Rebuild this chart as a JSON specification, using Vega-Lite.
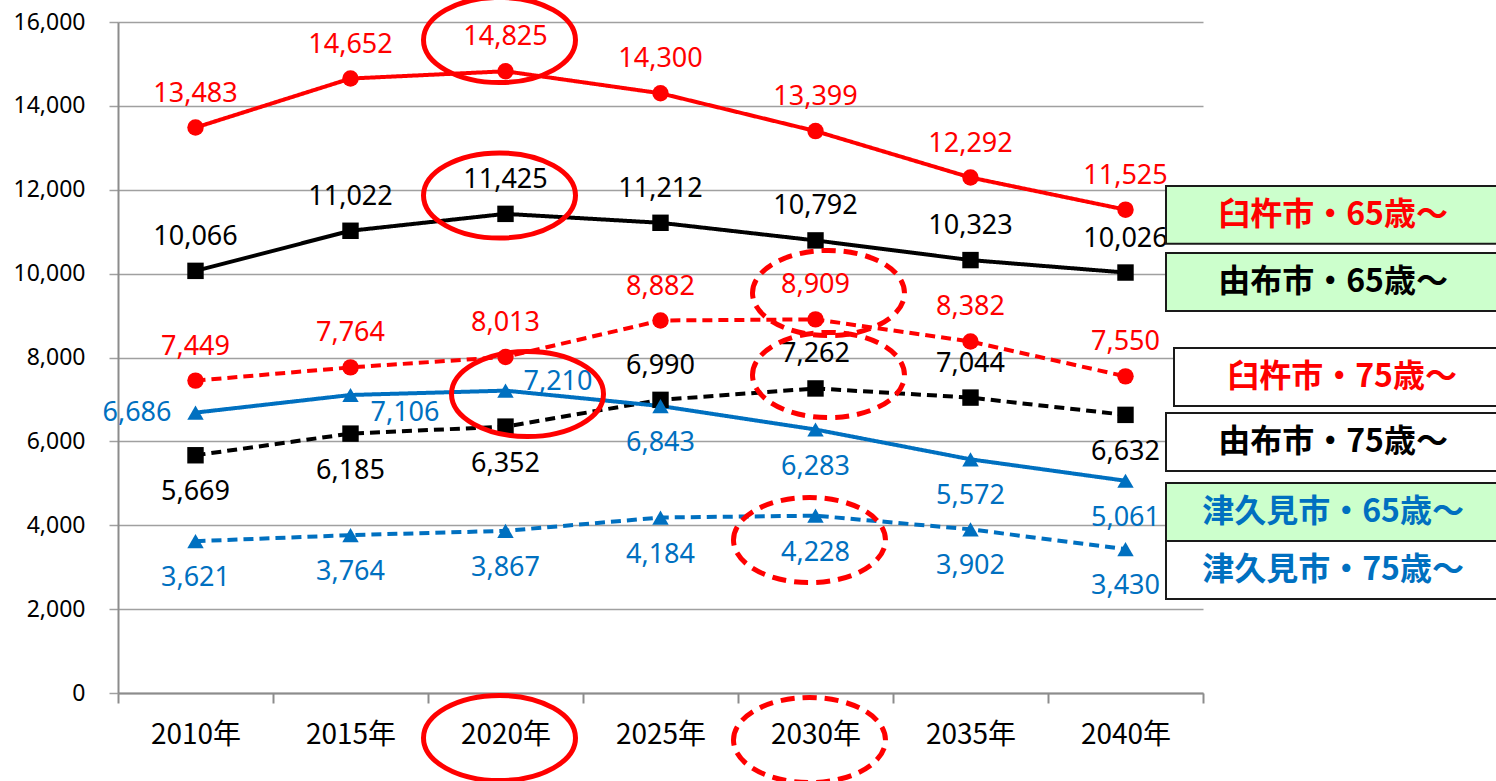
{
  "$schema": "https://vega.github.io/schema/vega-lite/v6.json",
  "autosize": "none",
  "width": 1085,
  "height": 671,
  "padding": {"left": 118, "top": 22, "right": 293, "bottom": 88},
  "background": "white",
  "config": {
    "view": {"stroke": null},
    "axisY": {
      "title": null, "format": ",", "labelFont": "Noto Sans", "labelFontSize": 23, "labelColor": "#000",
      "labelPadding": 24, "tickSize": 9, "tickColor": "#a0a0a0", "tickWidth": 1.5,
      "gridColor": "#a0a0a0", "gridWidth": 1.5, "domainColor": "#8c8c8c", "domainWidth": 2
    },
    "axisX": {
      "title": null, "labelAngle": 0,
      "labelFont": "Noto Sans CJK JP", "labelFontSize": 28, "labelColor": "#000",
      "labelPadding": 18, "tickSize": 10, "tickColor": "#8c8c8c", "tickWidth": 2,
      "domainColor": "#8c8c8c", "domainWidth": 2, "grid": false
    }
  },
  "datasets": {
    "series": [
      {"year": "2010年", "city": "臼杵市", "age": "65歳～", "value": 13483},
      {"year": "2015年", "city": "臼杵市", "age": "65歳～", "value": 14652},
      {"year": "2020年", "city": "臼杵市", "age": "65歳～", "value": 14825},
      {"year": "2025年", "city": "臼杵市", "age": "65歳～", "value": 14300},
      {"year": "2030年", "city": "臼杵市", "age": "65歳～", "value": 13399},
      {"year": "2035年", "city": "臼杵市", "age": "65歳～", "value": 12292},
      {"year": "2040年", "city": "臼杵市", "age": "65歳～", "value": 11525},
      {"year": "2010年", "city": "由布市", "age": "65歳～", "value": 10066},
      {"year": "2015年", "city": "由布市", "age": "65歳～", "value": 11022},
      {"year": "2020年", "city": "由布市", "age": "65歳～", "value": 11425},
      {"year": "2025年", "city": "由布市", "age": "65歳～", "value": 11212},
      {"year": "2030年", "city": "由布市", "age": "65歳～", "value": 10792},
      {"year": "2035年", "city": "由布市", "age": "65歳～", "value": 10323},
      {"year": "2040年", "city": "由布市", "age": "65歳～", "value": 10026},
      {"year": "2010年", "city": "臼杵市", "age": "75歳～", "value": 7449},
      {"year": "2015年", "city": "臼杵市", "age": "75歳～", "value": 7764},
      {"year": "2020年", "city": "臼杵市", "age": "75歳～", "value": 8013},
      {"year": "2025年", "city": "臼杵市", "age": "75歳～", "value": 8882},
      {"year": "2030年", "city": "臼杵市", "age": "75歳～", "value": 8909},
      {"year": "2035年", "city": "臼杵市", "age": "75歳～", "value": 8382},
      {"year": "2040年", "city": "臼杵市", "age": "75歳～", "value": 7550},
      {"year": "2010年", "city": "由布市", "age": "75歳～", "value": 5669},
      {"year": "2015年", "city": "由布市", "age": "75歳～", "value": 6185},
      {"year": "2020年", "city": "由布市", "age": "75歳～", "value": 6352},
      {"year": "2025年", "city": "由布市", "age": "75歳～", "value": 6990},
      {"year": "2030年", "city": "由布市", "age": "75歳～", "value": 7262},
      {"year": "2035年", "city": "由布市", "age": "75歳～", "value": 7044},
      {"year": "2040年", "city": "由布市", "age": "75歳～", "value": 6632},
      {"year": "2010年", "city": "津久見市", "age": "65歳～", "value": 6686},
      {"year": "2015年", "city": "津久見市", "age": "65歳～", "value": 7106},
      {"year": "2020年", "city": "津久見市", "age": "65歳～", "value": 7210},
      {"year": "2025年", "city": "津久見市", "age": "65歳～", "value": 6843},
      {"year": "2030年", "city": "津久見市", "age": "65歳～", "value": 6283},
      {"year": "2035年", "city": "津久見市", "age": "65歳～", "value": 5572},
      {"year": "2040年", "city": "津久見市", "age": "65歳～", "value": 5061},
      {"year": "2010年", "city": "津久見市", "age": "75歳～", "value": 3621},
      {"year": "2015年", "city": "津久見市", "age": "75歳～", "value": 3764},
      {"year": "2020年", "city": "津久見市", "age": "75歳～", "value": 3867},
      {"year": "2025年", "city": "津久見市", "age": "75歳～", "value": 4184},
      {"year": "2030年", "city": "津久見市", "age": "75歳～", "value": 4228},
      {"year": "2035年", "city": "津久見市", "age": "75歳～", "value": 3902},
      {"year": "2040年", "city": "津久見市", "age": "75歳～", "value": 3430}
    ],
    "ellipses": [
      {"year": "2020年", "anchor": 15571},
      {"year": "2020年", "anchor": 11863},
      {"year": "2020年", "anchor": 7130},
      {"year": "2020年", "anchor": -1073},
      {"year": "2030年", "anchor": 9538},
      {"year": "2030年", "anchor": 7583},
      {"year": "2030年", "anchor": 3648},
      {"year": "2030年", "anchor": -1121}
    ],
    "legend": [
      {"city": "臼杵市", "age": "65歳～", "anchor": 11400},
      {"city": "由布市", "age": "65歳～", "anchor": 9800},
      {"city": "臼杵市", "age": "75歳～", "anchor": 7535},
      {"city": "由布市", "age": "75歳～", "anchor": 5985},
      {"city": "津久見市", "age": "65歳～", "anchor": 4316},
      {"city": "津久見市", "age": "75歳～", "anchor": 2933}
    ]
  },
  "encoding": {
    "x": {
      "field": "year", "type": "nominal",
      "scale": {"domain": ["2010年", "2015年", "2020年", "2025年", "2030年", "2035年", "2040年"], "paddingInner": 0, "paddingOuter": 0},
      "axis": {"tickBand": "extent"}
    }
  },
  "layer": [
    {
      "data": {"name": "series"},
      "mark": {"type": "line", "strokeWidth": 4},
      "encoding": {
        "y": {
          "field": "value", "type": "quantitative",
          "scale": {"domain": [0, 16000], "nice": false},
          "axis": {"values": [0, 2000, 4000, 6000, 8000, 10000, 12000, 14000, 16000], "labelExpr": "format(datum.value, ',')"}
        },
        "color": {
          "field": "city", "type": "nominal",
          "scale": {"domain": ["臼杵市", "由布市", "津久見市"], "range": ["#FF0000", "#000000", "#0070C0"]},
          "legend": null
        },
        "strokeDash": {
          "field": "age", "type": "nominal",
          "scale": {"domain": ["65歳～", "75歳～"], "range": [[1, 0], [10, 6]]},
          "legend": null
        }
      }
    },
    {
      "data": {"name": "series"},
      "mark": {"type": "point", "filled": true, "opacity": 1, "size": 270},
      "encoding": {
        "y": {"field": "value", "type": "quantitative"},
        "color": {"field": "city", "type": "nominal", "legend": null},
        "shape": {
          "field": "city", "type": "nominal",
          "scale": {"domain": ["臼杵市", "由布市", "津久見市"], "range": ["circle", "square", "triangle-up"]},
          "legend": null
        }
      }
    },
    {
      "data": {"name": "series"},
      "transform": [{"filter": "datum.city == '臼杵市' || (datum.city == '由布市' && datum.age == '65歳～') || (datum.city == '由布市' && datum.age == '75歳～' && indexof(['2025年','2030年','2035年'], datum.year) >= 0)"}],
      "mark": {"type": "text", "font": "Noto Sans", "fontSize": 27, "dy": -34, "baseline": "middle"},
      "encoding": {
        "y": {"field": "value", "type": "quantitative"},
        "text": {"field": "value", "type": "quantitative", "format": ","},
        "color": {"field": "city", "type": "nominal", "legend": null}
      }
    },
    {
      "data": {"name": "series"},
      "transform": [{"filter": "(datum.city == '由布市' && datum.age == '75歳～' && indexof(['2010年','2015年','2020年','2040年'], datum.year) >= 0) || (datum.city == '津久見市' && datum.age == '75歳～') || (datum.city == '津久見市' && datum.age == '65歳～' && indexof(['2025年','2030年','2035年','2040年'], datum.year) >= 0)"}],
      "mark": {"type": "text", "font": "Noto Sans", "fontSize": 27, "dy": 37, "baseline": "middle"},
      "encoding": {
        "y": {"field": "value", "type": "quantitative"},
        "text": {"field": "value", "type": "quantitative", "format": ","},
        "color": {"field": "city", "type": "nominal", "legend": null}
      }
    },
    {
      "data": {"name": "series"},
      "transform": [{"filter": "datum.city == '津久見市' && datum.age == '65歳～' && datum.year == '2010年'"}],
      "mark": {"type": "text", "font": "Noto Sans", "fontSize": 27, "dx": -24, "dy": 0, "align": "right", "baseline": "middle"},
      "encoding": {
        "y": {"field": "value", "type": "quantitative"},
        "text": {"field": "value", "type": "quantitative", "format": ","},
        "color": {"field": "city", "type": "nominal", "legend": null}
      }
    },
    {
      "data": {"name": "series"},
      "transform": [{"filter": "datum.city == '津久見市' && datum.age == '65歳～' && datum.year == '2015年'"}],
      "mark": {"type": "text", "font": "Noto Sans", "fontSize": 27, "dx": 20, "dy": 18, "align": "left", "baseline": "middle"},
      "encoding": {
        "y": {"field": "value", "type": "quantitative"},
        "text": {"field": "value", "type": "quantitative", "format": ","},
        "color": {"field": "city", "type": "nominal", "legend": null}
      }
    },
    {
      "data": {"name": "series"},
      "transform": [{"filter": "datum.city == '津久見市' && datum.age == '65歳～' && datum.year == '2020年'"}],
      "mark": {"type": "text", "font": "Noto Sans", "fontSize": 27, "dx": 18, "dy": -9, "align": "left", "baseline": "middle"},
      "encoding": {
        "y": {"field": "value", "type": "quantitative"},
        "text": {"field": "value", "type": "quantitative", "format": ","},
        "color": {"field": "city", "type": "nominal", "legend": null}
      }
    },
    {
      "data": {"name": "ellipses"},
      "transform": [{"filter": "datum.year == '2020年' && datum.anchor != 7130"}],
      "mark": {"type": "point", "filled": false, "stroke": "#FF0000", "strokeWidth": 5, "opacity": 1, "size": 23104, "xOffset": -6,
        "shape": "M-1,0 C-1,-0.3093 -0.5523,-0.56 0,-0.56 C0.5523,-0.56 1,-0.3093 1,0 C1,0.3093 0.5523,0.56 0,0.56 C-0.5523,0.56 -1,0.3093 -1,0 Z"},
      "encoding": {"y": {"field": "anchor", "type": "quantitative"}}
    },
    {
      "data": {"name": "ellipses"},
      "transform": [{"filter": "datum.year == '2020年' && datum.anchor == 7130"}],
      "mark": {"type": "point", "filled": false, "stroke": "#FF0000", "strokeWidth": 5, "opacity": 1, "size": 23104, "xOffset": 22,
        "shape": "M-1,0 C-1,-0.3093 -0.5523,-0.56 0,-0.56 C0.5523,-0.56 1,-0.3093 1,0 C1,0.3093 0.5523,0.56 0,0.56 C-0.5523,0.56 -1,0.3093 -1,0 Z"},
      "encoding": {"y": {"field": "anchor", "type": "quantitative"}}
    },
    {
      "data": {"name": "ellipses"},
      "transform": [{"filter": "datum.year == '2030年' && datum.anchor > 5000"}],
      "mark": {"type": "point", "filled": false, "stroke": "#FF0000", "strokeWidth": 5, "strokeDash": [14, 8], "opacity": 1, "size": 23104, "xOffset": 13,
        "shape": "M-1,0 C-1,-0.3093 -0.5523,-0.56 0,-0.56 C0.5523,-0.56 1,-0.3093 1,0 C1,0.3093 0.5523,0.56 0,0.56 C-0.5523,0.56 -1,0.3093 -1,0 Z"},
      "encoding": {"y": {"field": "anchor", "type": "quantitative"}}
    },
    {
      "data": {"name": "ellipses"},
      "transform": [{"filter": "datum.year == '2030年' && datum.anchor < 5000"}],
      "mark": {"type": "point", "filled": false, "stroke": "#FF0000", "strokeWidth": 5, "strokeDash": [14, 8], "opacity": 1, "size": 23104, "xOffset": -6,
        "shape": "M-1,0 C-1,-0.3093 -0.5523,-0.56 0,-0.56 C0.5523,-0.56 1,-0.3093 1,0 C1,0.3093 0.5523,0.56 0,0.56 C-0.5523,0.56 -1,0.3093 -1,0 Z"},
      "encoding": {"y": {"field": "anchor", "type": "quantitative"}}
    },
    {
      "data": {"name": "legend"},
      "transform": [{"filter": "!(datum.city == '臼杵市' && datum.age == '75歳～')"}],
      "mark": {"type": "point", "filled": true, "opacity": 1, "stroke": "#1a1a1a", "strokeWidth": 2, "size": 115600, "xOffset": 210.5,
        "shape": "M-1,-0.17 L1,-0.17 L1,0.17 L-1,0.17 Z"},
      "encoding": {
        "x": {"datum": "2040年"},
        "y": {"field": "anchor", "type": "quantitative"},
        "fill": {"field": "age", "type": "nominal", "scale": {"domain": ["65歳～", "75歳～"], "range": ["#CCFFCC", "#FFFFFF"]}, "legend": null}
      }
    },
    {
      "data": {"name": "legend"},
      "transform": [{"filter": "datum.city == '臼杵市' && datum.age == '75歳～'"}],
      "mark": {"type": "point", "filled": true, "opacity": 1, "stroke": "#1a1a1a", "strokeWidth": 2, "size": 115600, "xOffset": 218.5,
        "shape": "M-1,-0.17 L1,-0.17 L1,0.17 L-1,0.17 Z"},
      "encoding": {
        "x": {"datum": "2040年"},
        "y": {"field": "anchor", "type": "quantitative"},
        "fill": {"field": "age", "type": "nominal", "legend": null}
      }
    },
    {
      "data": {"name": "legend"},
      "transform": [
        {"filter": "!(datum.city == '臼杵市' && datum.age == '75歳～')"},
        {"calculate": "datum.city + '・' + datum.age", "as": "label"}
      ],
      "mark": {"type": "text", "font": "Noto Sans CJK JP", "fontWeight": "bold", "fontSize": 32, "xOffset": 207.5, "baseline": "middle"},
      "encoding": {
        "x": {"datum": "2040年"},
        "y": {"field": "anchor", "type": "quantitative"},
        "text": {"field": "label", "type": "nominal"},
        "color": {"field": "city", "type": "nominal", "legend": null}
      }
    },
    {
      "data": {"name": "legend"},
      "transform": [
        {"filter": "datum.city == '臼杵市' && datum.age == '75歳～'"},
        {"calculate": "datum.city + '・' + datum.age", "as": "label"}
      ],
      "mark": {"type": "text", "font": "Noto Sans CJK JP", "fontWeight": "bold", "fontSize": 32, "xOffset": 216.5, "baseline": "middle"},
      "encoding": {
        "x": {"datum": "2040年"},
        "y": {"field": "anchor", "type": "quantitative"},
        "text": {"field": "label", "type": "nominal"},
        "color": {"field": "city", "type": "nominal", "legend": null}
      }
    }
  ]
}
